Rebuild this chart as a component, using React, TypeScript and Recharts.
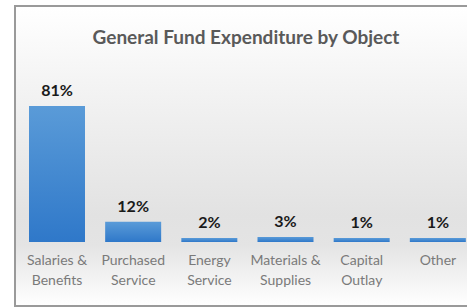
import { BarChart, Bar, XAxis, YAxis, LabelList } from 'recharts';

const categories = ['Salaries & Benefits', 'Purchased Service', 'Energy Service', 'Materials & Supplies', 'Capital Outlay', 'Other'];
const tickLines = [
  ['Salaries &', 'Benefits'],
  ['Purchased', 'Service'],
  ['Energy', 'Service'],
  ['Materials &', 'Supplies'],
  ['Capital', 'Outlay'],
  ['Other'],
];
const shares = [81, 12, 2, 3, 1, 1];

const data = categories.map((name, i) => ({ name, value: shares[i] }));

const FONT = 'Lato, "Open Sans", sans-serif';

// two-line category label under each bar
const CategoryTick = (props: any) => {
  const { x, y, index } = props;
  const lines = tickLines[index] || [];
  return (
    <text x={x} y={y} textAnchor="middle" fill="#7a7a7a" fontSize={14} fontFamily={FONT}>
      {lines.map((l, i) => (
        <tspan key={i} x={x} dy={i === 0 ? 15 : 20}>{l}</tspan>
      ))}
    </text>
  );
};

export default function App() {
  return (
    <div style={{ position: 'absolute', left: 0, top: 0, width: 467, height: 308, overflow: 'hidden', background: '#fff' }}>
      <div
        style={{
          position: 'absolute',
          left: 14,
          top: 5,
          width: 460,
          height: 298,
          border: '2px solid #9a9a9a',
          overflow: 'hidden',
          background: 'linear-gradient(to bottom, #ffffff 0%, #f4f4f4 25%, #e2e2e2 70%, #e4e4e4 80%, #f8f8f8 95%, #ffffff 100%)',
        }}
      >
        <div
          style={{
            position: 'absolute',
            top: 18,
            left: 0,
            width: 460,
            textAlign: 'center',
            fontFamily: FONT,
            fontWeight: 700,
            fontSize: 19,
            color: '#595959',
          }}
        >
          General Fund Expenditure by Object
        </div>
        <BarChart
          width={460}
          height={298}
          data={data}
          margin={{ top: 67, right: 0, left: 3, bottom: 0 }}
          barCategoryGap={10}
          style={{ position: 'absolute', left: 0, top: 0 }}
        >
          <defs>
            <linearGradient id="barFill" x1="0" y1="0" x2="0" y2="1">
              <stop offset="0%" stopColor="#5a9bd8" />
              <stop offset="100%" stopColor="#2f78c9" />
            </linearGradient>
          </defs>
          <XAxis dataKey="name" axisLine={false} tickLine={false} interval={0} height={63} tick={<CategoryTick />} />
          <YAxis hide domain={[0, 100]} />
          <Bar dataKey="value" fill="url(#barFill)" minPointSize={4} isAnimationActive={false}>
            <LabelList
              dataKey="value"
              position="top"
              offset={10}
              formatter={(v: any) => `${v}%`}
              fill="#1a1a1a"
              fontSize={16}
              fontWeight={700}
              fontFamily={FONT}
            />
          </Bar>
        </BarChart>
      </div>
    </div>
  );
}
